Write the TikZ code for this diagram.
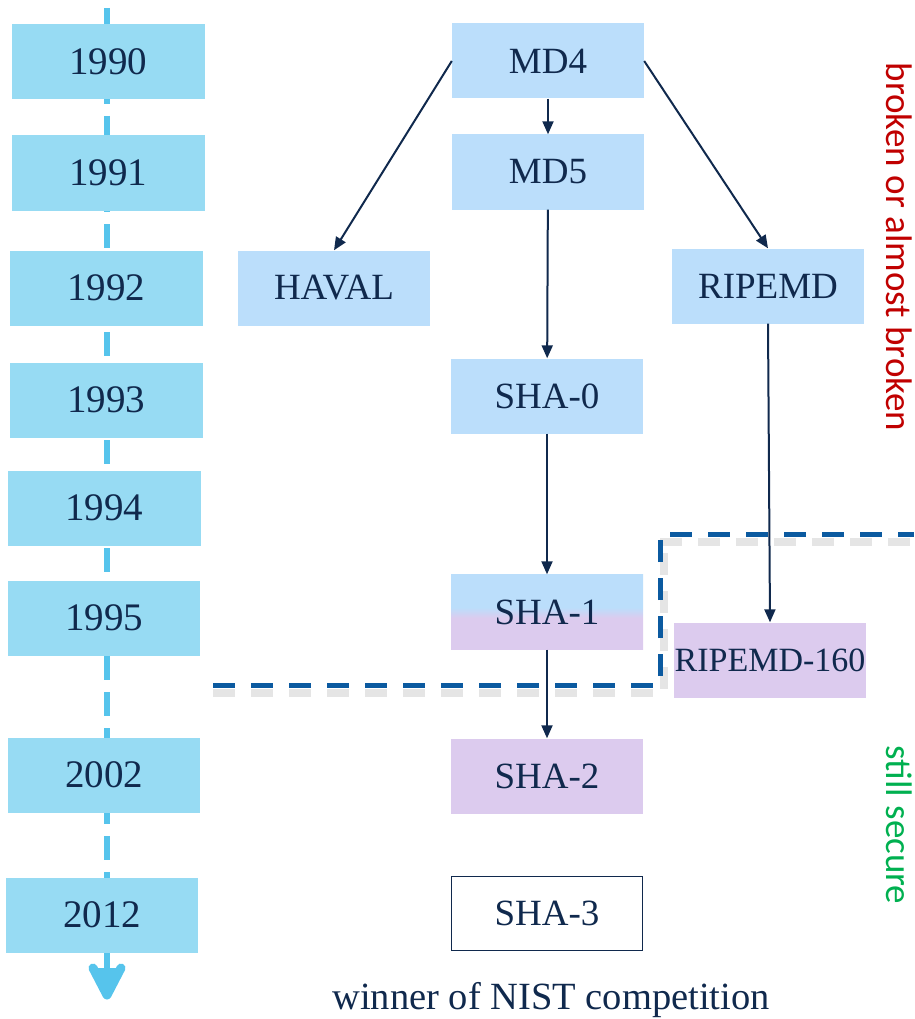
\documentclass[tikz,border=0pt]{standalone}
\usepackage{fontspec}
\setmainfont{Liberation Serif}
\newfontfamily\sidefont{Carlito}
\usetikzlibrary{arrows.meta}
\definecolor{yearblue}{HTML}{97DBF3}
\definecolor{hashblue}{HTML}{BBDEFB}
\definecolor{hashpurple}{HTML}{DCCBEE}
\definecolor{navy}{HTML}{10294D}
\definecolor{dashblue}{HTML}{0B5AA0}
\definecolor{tlblue}{HTML}{56C4EC}
\definecolor{brokenred}{HTML}{C00000}
\definecolor{securegreen}{HTML}{00B050}
\pgfdeclareverticalshading{shaone}{100bp}{color(0bp)=(hashpurple); color(46bp)=(hashpurple); color(53bp)=(hashblue); color(100bp)=(hashblue)}
\tikzset{
  bigtext/.style={font=\fontsize{37}{40}\selectfont, text=navy},
  yearbox/.style={bigtext, font=\fontsize{39}{42}\selectfont, fill=yearblue, minimum width=193pt, minimum height=75pt, inner sep=0pt},
  hashbox/.style={bigtext, fill=hashblue, minimum width=192pt, minimum height=75pt, inner sep=0pt},
  newbox/.style={hashbox, fill=hashpurple},
  conn/.style={draw=navy, line width=2pt, -{Triangle[length=13pt,width=11pt]}},
  sep/.style={draw=dashblue, line width=5pt, dash pattern=on 22pt off 16pt},
  sepshadow/.style={draw=black, opacity=0.1, line width=8pt, dash pattern=on 22pt off 16pt},
  sidetext/.style={font=\sidefont\fontsize{37}{40}\selectfont, rotate=-90, inner sep=0pt},
}
\begin{document}
\begin{tikzpicture}[x=1pt,y=-1pt]
\useasboundingbox (0,0) rectangle (914,1019);
% timeline
\coordinate (tltop) at (107,8);
\coordinate (tlbot) at (107,975);
\draw[tlblue, line width=6pt, dash pattern=on 24pt off 12pt] (tltop) -- (tlbot);
\coordinate (chl) at (93,968);
\coordinate (cht) at (107,995);
\coordinate (chr) at (121,968);
\draw[tlblue, line width=9pt, line cap=round, line join=round, fill=tlblue] (chl) -- (cht) -- (chr);
\fill[tlblue] (chl) -- (cht) -- (chr) -- (107,978) -- cycle;
% years
\node[yearbox] (y1990) at (108,62) {1990};
\node[yearbox] (y1991) at (108,173) {1991};
\node[yearbox] (y1992) at (106,288) {1992};
\node[yearbox] (y1993) at (106,400) {1993};
\node[yearbox] (y1994) at (104,508) {1994};
\node[yearbox, minimum width=192pt] (y1995) at (104,618) {1995};
\node[yearbox, minimum width=192pt] (y2002) at (104,775) {2002};
\node[yearbox, minimum width=192pt] (y2012) at (102,915) {2012};
% separator
\coordinate (sa) at (213,685);
\coordinate (sb) at (660,685);
\coordinate (sc) at (660,534);
\coordinate (sd) at (914,534);
\draw[sepshadow] ([shift={(0,8)}]sa) -- ([shift={(0,8)}]sb);
\draw[sepshadow] ([shift={(4,4)}]sb) -- ([shift={(4,4)}]sc);
\draw[sepshadow] ([shift={(0,8)}]sc) -- ([shift={(0,8)}]sd);
\draw[sep] (sa) -- (sb) -- (sc) -- (sd);
% hash functions
\node[hashbox] (md4) at (548,61) {MD4};
\node[hashbox] (md5) at (548,172) {MD5};
\node[hashbox] (haval) at (334,288) {HAVAL};
\node[hashbox] (ripemd) at (768,286) {RIPEMD};
\node[hashbox] (sha0) at (547,396) {SHA-0};
\node[hashbox, shading=shaone] (sha1) at (547,612) {SHA-1};
\node[newbox, font=\fontsize{34}{38}\selectfont] (ripemd160) at (770,660) {RIPEMD-160};
\node[newbox] (sha2) at (547,776) {SHA-2};
\node[hashbox, fill=white, draw=navy, line width=1pt, minimum width=191pt, minimum height=74pt] (sha3) at (547,913) {SHA-3};
\node[bigtext, font=\fontsize{38.5}{42}\selectfont] (winner) at (551,1000) {winner of NIST competition};
% connectors
\draw[conn] (md4.west) -- (haval.north);
\draw[conn] (md4) -- (md5);
\draw[conn] (md4.east) -- (ripemd.north);
\draw[conn] (md5) -- (sha0);
\draw[conn] (sha0) -- (sha1);
\draw[conn] (ripemd.south) -- (ripemd160.north);
\draw[conn] (sha1) -- (sha2);
% side labels
\node[sidetext, text=brokenred] (broken) at (899,247) {broken or almost broken};
\node[sidetext, text=securegreen] (secure) at (899,825) {still secure};
\end{tikzpicture}
\end{document}
